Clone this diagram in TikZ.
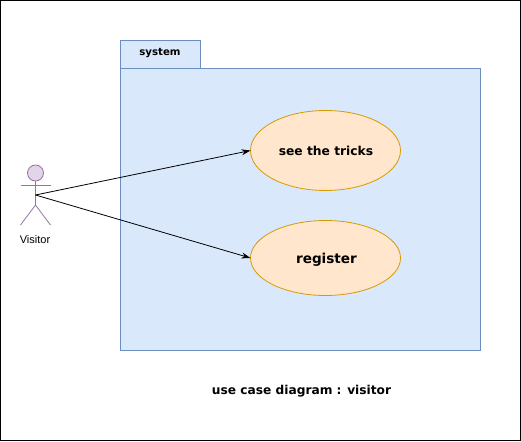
\documentclass[tikz,border=0pt]{standalone}
\usepackage{fontspec}
\setmainfont{Liberation Sans}
\newfontfamily\labelfont{DejaVu Sans}
\usepackage{tikz}
\usetikzlibrary{arrows.meta,shapes.geometric}
\definecolor{pkgfill}{HTML}{DAE8FC}
\definecolor{pkgline}{HTML}{6C8EBF}
\definecolor{casefill}{HTML}{FFE6CC}
\definecolor{caseline}{HTML}{D79B00}
\definecolor{actorfill}{HTML}{E1D5E7}
\definecolor{actorline}{HTML}{9673A6}

\begin{document}
\begin{tikzpicture}[x=1pt, y=-1pt,
                    every node/.style = {inner sep=0pt, outer sep=0pt, align=center},
                    package/.style = {shape=rectangle, draw=pkgline, fill=pkgfill, line width=0.8pt},
                    usecase/.style = {shape=ellipse, draw=caseline, fill=casefill, line width=0.8pt},
                    limb/.style = {draw=actorline, line width=0.8pt},
                    link/.style = {draw=black, line width=0.8pt, -{Stealth[length=9pt,width=6pt]}}]

  \useasboundingbox (0,0) rectangle (521,441);
  \draw[line width=1pt] (0.5,0.5) rectangle (520.5,440.5);

  % package with its tab
  \node[package, minimum width=80pt, minimum height=28pt] (tab) at (160.5,54.5) {};
  \node[font=\labelfont\fontsize{10.2pt}{11pt}\selectfont\bfseries] (tablabel) at (160,53.5) {system};
  \node[package, minimum width=360pt, minimum height=282pt] (pkg) at (300.5,209.5) {};

  % use cases
  \node[usecase, minimum width=150pt, minimum height=80pt] (tricks) at (325.5,150.5) {};
  \node[font=\labelfont\fontsize{12.3pt}{14pt}\selectfont\bfseries] (trickslabel) at (326,151) {see the tricks};
  \node[usecase, minimum width=150pt, minimum height=75pt] (register) at (325.5,258) {};
  \node[font=\labelfont\fontsize{13.6pt}{16pt}\selectfont\bfseries] (registerlabel) at (326.5,260) {register};

  % actor
  \node[shape=circle, draw=actorline, fill=actorfill, line width=0.8pt, minimum size=16pt] (head) at (35.5,173) {};
  \coordinate (hip) at (35.5,205);
  \coordinate (chest) at (35.5,195);
  \coordinate (armL) at (20.5,185);
  \coordinate (armR) at (50.5,185);
  \coordinate (footL) at (20.5,225);
  \coordinate (footR) at (50.5,225);
  \draw[limb] (head) -- (hip);
  \draw[limb] (armL) -- (armR);
  \draw[limb] (footL) -- (hip) -- (footR);
  \node[font=\fontsize{11pt}{12pt}\selectfont] (visitor) at (35,240) {Visitor};

  % links
  \draw[link] (chest) -- (tricks.west);
  \draw[link] (chest) -- (register.west);

  \node[font=\labelfont\fontsize{12.2pt}{14pt}\selectfont\bfseries] (title) at (301.5,391.5) {use case diagram : visitor};
\end{tikzpicture}
\end{document}
